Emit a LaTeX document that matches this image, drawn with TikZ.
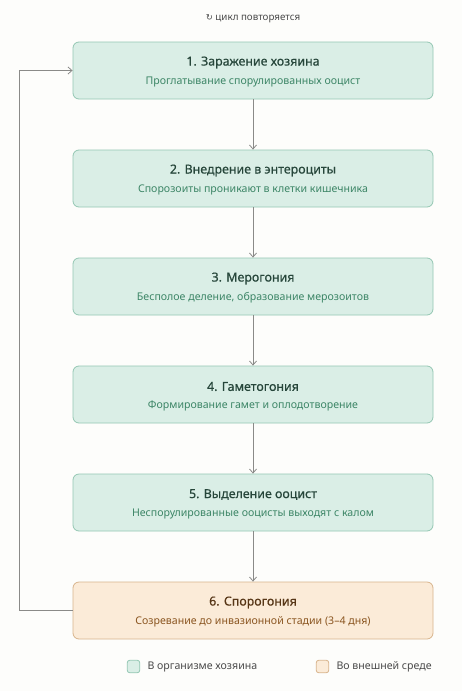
\documentclass[tikz,border=0pt]{standalone}
\usepackage{fontspec}
\setmainfont{Noto Sans}
\newfontfamily\symfont{DejaVu Sans}
\usetikzlibrary{arrows.meta}
\definecolor{bgc}{HTML}{FDFDFB}
\definecolor{gfill}{HTML}{DAEEE6}
\definecolor{gdraw}{HTML}{94C7B3}
\definecolor{gtitle}{HTML}{26463A}
\definecolor{gsub}{HTML}{3C8566}
\definecolor{ofill}{HTML}{FBEBD8}
\definecolor{odraw}{HTML}{D8B48C}
\definecolor{otitle}{HTML}{573617}
\definecolor{osub}{HTML}{8A5520}
\definecolor{arr}{HTML}{8A8A88}
\definecolor{legtext}{HTML}{4A4A4A}
\tikzset{
  stagebox/.style={draw=gdraw, fill=gfill, rounded corners=6pt, line width=0.8pt, minimum width=360pt, minimum height=57pt, inner sep=0pt},
  envbox/.style={stagebox, draw=odraw, fill=ofill},
  ttl/.style={font=\fontsize{12.4}{14}\selectfont\addfontfeatures{FakeBold=0.5}, text=gtitle},
  sub/.style={font=\fontsize{10.6}{12}\selectfont, text=gsub},
  flow/.style={draw=arr, line width=0.8pt, -{Straight Barb[length=4pt,width=7pt]}},
  legsq/.style={draw, rounded corners=2.5pt, line width=0.8pt, minimum size=12.5pt, inner sep=0pt},
  legtxt/.style={font=\fontsize{10.6}{12}\selectfont, text=legtext, anchor=west}
}
\begin{document}
\begin{tikzpicture}[x=1pt,y=-1pt]
\fill[bgc] (0,0) rectangle (462,691);
\useasboundingbox (0,0) rectangle (462,691);
\node[font=\fontsize{9.8}{11}\selectfont, text=legtext] (cyc) at (253,19) {{\symfont\fontsize{8.5}{10}\selectfont ↻} цикл повторяется};
\node[stagebox] (b1) at (253,70.5) {};
\node[stagebox] (b2) at (253,178.5) {};
\node[stagebox] (b3) at (253,286.5) {};
\node[stagebox] (b4) at (253,394.5) {};
\node[stagebox] (b5) at (253,502.5) {};
\node[envbox] (b6) at (253,610.5) {};
\node[ttl] (t1) at (253,62.5) {1. Заражение хозяина};
\node[sub] (s1) at (253,82) {Проглатывание спорулированных ооцист};
\node[ttl] (t2) at (253,170.5) {2. Внедрение в энтероциты};
\node[sub] (s2) at (253,190) {Спорозоиты проникают в клетки кишечника};
\node[ttl] (t3) at (253,278.5) {3. Мерогония};
\node[sub] (s3) at (253,298) {Бесполое деление, образование мерозоитов};
\node[ttl] (t4) at (253,386.5) {4. Гаметогония};
\node[sub] (s4) at (253,406) {Формирование гамет и оплодотворение};
\node[ttl] (t5) at (253,494.5) {5. Выделение ооцист};
\node[sub] (s5) at (253,514) {Неспорулированные ооцисты выходят с калом};
\node[ttl, text=otitle] (t6) at (253,602.5) {6. Спорогония};
\node[sub, text=osub] (s6) at (253,622) {Созревание до инвазионной стадии (3–4 дня)};
\draw[flow] (b1) -- (b2);
\draw[flow] (b2) -- (b3);
\draw[flow] (b3) -- (b4);
\draw[flow] (b4) -- (b5);
\draw[flow] (b5) -- (b6);
\coordinate (lb) at (19,610.5);
\coordinate (lt) at (19,70.5);
\draw[flow] (b6.west) -- (lb) -- (lt) -- (b1.west);
\node[legsq, draw=gdraw, fill=gfill] (lg1) at (133.5,666.5) {};
\node[legtxt] (lt1) at (144,667) {В организме хозяина};
\node[legsq, draw=odraw, fill=ofill] (lg2) at (322.5,666.5) {};
\node[legtxt] (lt2) at (333,667) {Во внешней среде};
\end{tikzpicture}
\end{document}
